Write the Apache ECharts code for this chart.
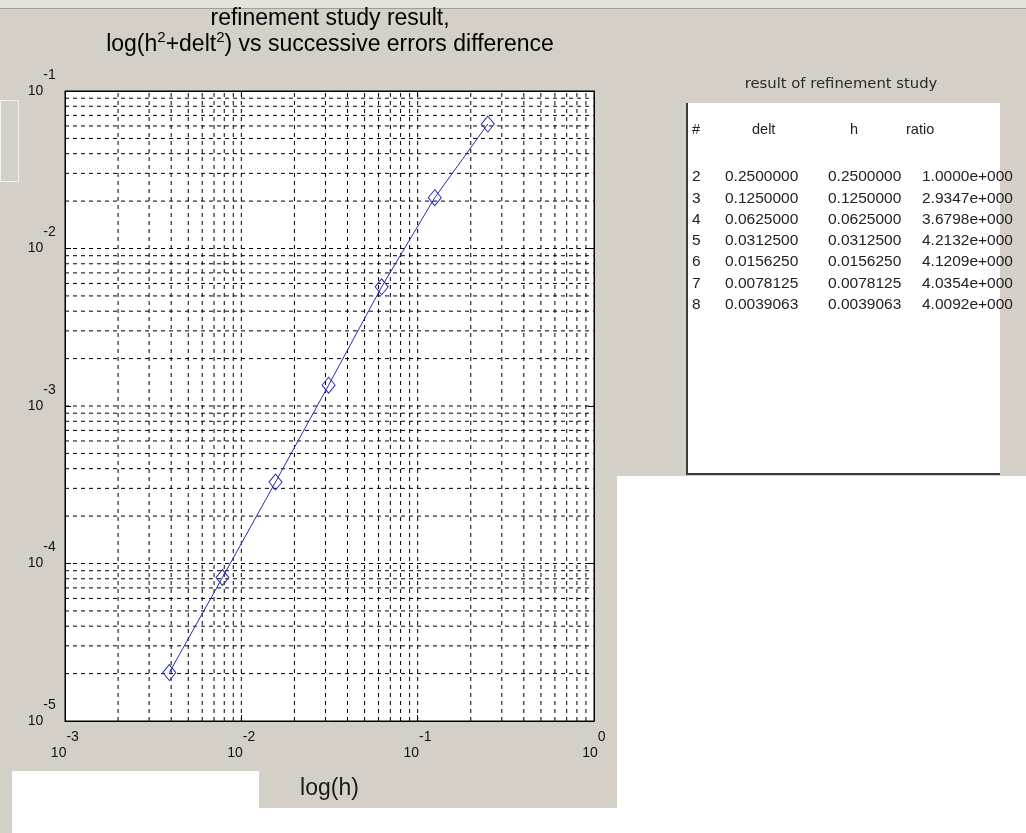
<!DOCTYPE html>
<html><head><meta charset="utf-8">
<script src="https://cdn.jsdelivr.net/npm/echarts@6/dist/echarts.min.js"></script>
<style>html,body{margin:0;padding:0;background:#d4d0c8;}#c{width:1026px;height:833px;}</style>
</head><body><div id="c"></div>
<script>
// ---- data ----
const hValues = [0.25, 0.125, 0.0625, 0.03125, 0.015625, 0.0078125, 0.00390625];
const diffValues = [0.0617, 0.02102, 0.005713, 0.001356, 0.000329, 0.0000815, 0.0000203];
const xRange = [0.001, 1];
const yRange = [0.00001, 0.1];
const xDecades = [-3, -2, -1];
const yDecades = [-5, -4, -3, -2];
const gridMultipliers = [1, 2, 3, 4, 5, 6, 7, 8, 9];
const tableHeader = ['#', 'delt', 'h', 'ratio'];
const tableIdx = ['2', '3', '4', '5', '6', '7', '8'];
const tableDelt = ['0.2500000', '0.1250000', '0.0625000', '0.0312500', '0.0156250', '0.0078125', '0.0039063'];
const tableH = ['0.2500000', '0.1250000', '0.0625000', '0.0312500', '0.0156250', '0.0078125', '0.0039063'];
const tableRatio = ['1.0000e+000', '2.9347e+000', '3.6798e+000', '4.2132e+000', '4.1209e+000', '4.0354e+000', '4.0092e+000'];

const F = '"Liberation Sans", Arial, sans-serif';
const chart = echarts.init(document.getElementById('c'), null, {renderer: 'canvas'});

const gridLineStyle = {type: [4, 4], color: '#000', width: 1};
const gridSeries = [];
xDecades.forEach(k => gridMultipliers.forEach(m => {
  if (k === -3 && m === 1) return;
  const v = +(m * Math.pow(10, k)).toPrecision(6);
  gridSeries.push({type: 'line', z: 1, silent: true, symbol: 'none', animation: false,
    data: [[v, yRange[0]], [v, yRange[1]]], lineStyle: gridLineStyle, emphasis: {disabled: true}});
}));
yDecades.forEach(k => gridMultipliers.forEach(m => {
  if (k === -5 && m === 1) return;
  const v = +(m * Math.pow(10, k)).toPrecision(6);
  gridSeries.push({type: 'line', z: 1, silent: true, symbol: 'none', animation: false,
    data: [[xRange[0], v], [xRange[1], v]], lineStyle: gridLineStyle, emphasis: {disabled: true}});
}));

const labelRich = {
  b: {fontSize: 14, lineHeight: 14, verticalAlign: 'bottom', color: '#111', fontFamily: F},
  e: {fontSize: 14, lineHeight: 14, verticalAlign: 'top', color: '#111', fontFamily: F},
  h: {fontSize: 1, lineHeight: 30}
};
const expFmt = v => '{b|10}{e|' + Math.round(Math.log10(v)) + '}{h| }';

const points = hValues.map((h, i) => [h, diffValues[i]]);

// graphics: GUI panels and table
const graphics = [
  {type: 'rect', z: -100, shape: {x: 0, y: 0, width: 1026, height: 8}, style: {fill: '#e4e2dd'}},
  {type: 'rect', z: -100, shape: {x: 0, y: 8, width: 1026, height: 1}, style: {fill: '#a09e99'}},
  {type: 'rect', z: -100, shape: {x: 12, y: 771, width: 247, height: 62}, style: {fill: '#ffffff'}},
  {type: 'rect', z: -100, shape: {x: 12, y: 808, width: 605, height: 25}, style: {fill: '#ffffff'}},
  {type: 'rect', z: -100, shape: {x: 617, y: 476, width: 409, height: 357}, style: {fill: '#ffffff'}},
  {type: 'rect', z: -100, shape: {x: 0.5, y: 100.5, width: 18, height: 81}, style: {fill: 'none', stroke: '#f2f1ee', lineWidth: 1}},
  {type: 'rect', z: -90, shape: {x: 686, y: 103, width: 314, height: 372}, style: {fill: '#ffffff'}},
  {type: 'line', z: -80, shape: {x1: 687, y1: 103, x2: 687, y2: 475}, style: {stroke: '#3a3a3a', lineWidth: 2}},
  {type: 'line', z: -80, shape: {x1: 686, y1: 474, x2: 1000, y2: 474}, style: {stroke: '#3a3a3a', lineWidth: 2}},
  {type: 'text', z: 10, x: 330, y: 4, style: {
    text: '{a|refinement study result,}\n{a|log(h}{s|2}{a|+delt}{s|2}{a|) vs successive errors difference}',
    align: 'center',
    rich: {
      a: {fontSize: 23, lineHeight: 26, fontFamily: F, color: '#1a1a1a', verticalAlign: 'bottom'},
      s: {fontSize: 15, lineHeight: 15, fontFamily: F, color: '#1a1a1a', verticalAlign: 'top'}
    }
  }},
  {type: 'text', z: 10, x: 841, y: 84, style: {text: 'result of refinement study', align: 'center', verticalAlign: 'middle', font: '14.8px "DejaVu Sans", sans-serif', fill: '#2a2a2a'}}
];
const colX = [692, 752, 850, 906];
tableHeader.forEach((t, j) => graphics.push({type: 'text', z: 10, x: colX[j], y: 130,
  style: {text: t, verticalAlign: 'middle', font: '14.5px ' + F, fill: '#222'}}));
const rowX = [692, 725, 828, 922];
tableIdx.forEach((t, i) => {
  const y = 177 + i * 21.3;
  [tableIdx[i], tableDelt[i], tableH[i], tableRatio[i]].forEach((s, j) => graphics.push({
    type: 'text', z: 10, x: rowX[j], y: y,
    style: {text: s, verticalAlign: 'middle', font: '15.5px ' + F, fill: '#222'}
  }));
});

const baseAxis = {
  type: 'log', logBase: 10,
  axisLine: {show: true, lineStyle: {color: '#000'}},
  axisTick: {show: true, inside: true, length: 6, lineStyle: {color: '#000'}},
  splitLine: {show: false}, minorTick: {show: false}
};

const option = {
  backgroundColor: '#d4d0c8',
  animation: false,
  graphic: graphics,
  grid: {left: 65, top: 91, width: 529, height: 630, show: true, backgroundColor: '#ffffff', borderColor: '#000', borderWidth: 1, containLabel: false},
  xAxis: [Object.assign({}, baseAxis, {
    min: xRange[0], max: xRange[1], splitNumber: 3,
    axisLabel: {show: true, margin: 9, showMinLabel: true, showMaxLabel: true, formatter: expFmt, rich: labelRich},
    name: 'log(h)', nameLocation: 'middle', nameGap: 56,
    nameTextStyle: {fontSize: 23, fontFamily: F, color: '#1a1a1a'}
  }), Object.assign({}, baseAxis, {
    min: xRange[0], max: xRange[1], splitNumber: 3, position: 'top', axisLabel: {show: false}
  })],
  yAxis: [Object.assign({}, baseAxis, {
    min: yRange[0], max: yRange[1], splitNumber: 4,
    axisLabel: {show: true, margin: 9, padding: [0, 0, 16, 0], showMinLabel: true, showMaxLabel: true, formatter: expFmt, rich: labelRich}
  }), Object.assign({}, baseAxis, {
    min: yRange[0], max: yRange[1], splitNumber: 4, position: 'right', axisLabel: {show: false}
  })],
  series: gridSeries.concat([{
    type: 'line', z: 5, data: points,
    symbol: 'diamond', symbolSize: [13, 16],
    lineStyle: {color: '#2b2bb5', width: 1},
    itemStyle: {color: 'rgba(0,0,0,0)', borderColor: '#2b2bb5', borderWidth: 1}
  }])
};
chart.setOption(option);
</script>
</body></html>
